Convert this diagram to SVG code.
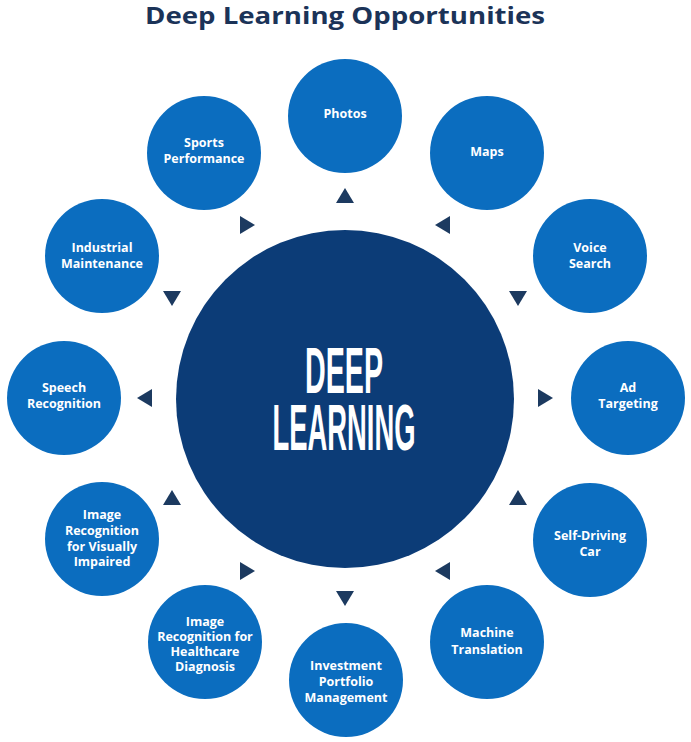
<svg xmlns="http://www.w3.org/2000/svg" width="691" height="742" viewBox="0 0 691 742">
<defs>
<style>
.bg{fill:#ffffff}
.title{font-family:"Open Sans","Liberation Sans",sans-serif;font-weight:700;font-size:24px;fill:#1b3358}
.node circle{fill:#0b6dbf}
.node text{font-family:"Open Sans","Liberation Sans",sans-serif;font-weight:700;font-size:12.5px;fill:#ffffff;text-anchor:middle}
.hub circle{fill:#0c3c77}
.hub text{font-family:"Liberation Sans","Arial",sans-serif;font-weight:700;font-size:64px;fill:#ffffff;text-anchor:middle}
.tri{fill:#1c3a60}
</style>
</defs>
<rect class="bg" x="0" y="0" width="691" height="742"/>
<text class="title" x="345" y="24" text-anchor="middle" textLength="400" lengthAdjust="spacingAndGlyphs">Deep Learning Opportunities</text>

<g id="connectors">
<polygon class="tri" points="345,188 354,203 336,203"/>
<polygon class="tri" points="435,225 450,216 450,234"/>
<polygon class="tri" points="518,306 509,291 527,291"/>
<polygon class="tri" points="553,398 538,389 538,407"/>
<polygon class="tri" points="518,490 527,505 509,505"/>
<polygon class="tri" points="435,571 450,562 450,580"/>
<polygon class="tri" points="345,606 336,591 354,591"/>
<polygon class="tri" points="255,571 240,562 240,580"/>
<polygon class="tri" points="172,490 181,505 163,505"/>
<polygon class="tri" points="137,398 152,389 152,407"/>
<polygon class="tri" points="172,306 163,291 181,291"/>
<polygon class="tri" points="255,225 240,216 240,234"/>
</g>

<g id="hub" class="hub">
<circle cx="345" cy="399" r="169"/>
<text x="344" y="393" textLength="78" lengthAdjust="spacingAndGlyphs">DEEP</text>
<text x="344" y="450" textLength="143" lengthAdjust="spacingAndGlyphs">LEARNING</text>
</g>

<g id="photos" class="node">
<circle cx="345" cy="116" r="57"/>
<text x="345" y="118">Photos</text>
</g>
<g id="maps" class="node">
<circle cx="487" cy="153" r="57"/>
<text x="487" y="156">Maps</text>
</g>
<g id="voice-search" class="node">
<circle cx="590" cy="256" r="57"/>
<text x="590" y="252">Voice</text>
<text x="590" y="268">Search</text>
</g>
<g id="ad-targeting" class="node">
<circle cx="628" cy="398" r="57"/>
<text x="628" y="392">Ad</text>
<text x="628" y="408">Targeting</text>
</g>
<g id="self-driving-car" class="node">
<circle cx="590" cy="540" r="57"/>
<text x="590" y="540">Self-Driving</text>
<text x="590" y="556">Car</text>
</g>
<g id="machine-translation" class="node">
<circle cx="487" cy="642" r="57"/>
<text x="487" y="637">Machine</text>
<text x="487" y="654">Translation</text>
</g>
<g id="investment-portfolio-management" class="node">
<circle cx="346" cy="680" r="57"/>
<text x="346" y="670">Investment</text>
<text x="346" y="686">Portfolio</text>
<text x="346" y="702">Management</text>
</g>
<g id="image-recognition-healthcare" class="node">
<circle cx="205" cy="642" r="57"/>
<text x="205" y="626">Image</text>
<text x="205" y="641">Recognition for</text>
<text x="205" y="656">Healthcare</text>
<text x="205" y="671">Diagnosis</text>
</g>
<g id="image-recognition-visually-impaired" class="node">
<circle cx="102" cy="539" r="57"/>
<text x="102" y="519">Image</text>
<text x="102" y="535">Recognition</text>
<text x="102" y="551">for Visually</text>
<text x="102" y="566">Impaired</text>
</g>
<g id="speech-recognition" class="node">
<circle cx="64" cy="398" r="57"/>
<text x="64" y="392">Speech</text>
<text x="64" y="408">Recognition</text>
</g>
<g id="industrial-maintenance" class="node">
<circle cx="102" cy="256" r="57"/>
<text x="102" y="252">Industrial</text>
<text x="102" y="268">Maintenance</text>
</g>
<g id="sports-performance" class="node">
<circle cx="204" cy="153" r="57"/>
<text x="204" y="147">Sports</text>
<text x="204" y="163">Performance</text>
</g>
</svg>
